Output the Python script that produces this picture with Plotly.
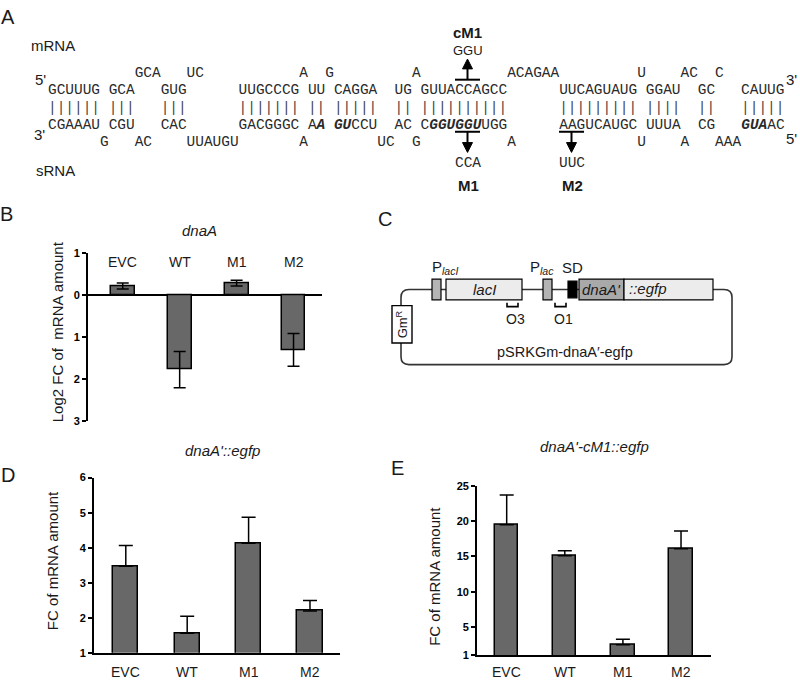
import plotly.graph_objects as go

W, H = 800, 687
SANS = "Liberation Sans, Arial, sans-serif"
MONO = "Liberation Mono, Courier New, monospace"
BAR_FILL = "#686868"
INK = "#1a1a1a"

# ---------------- data ----------------
categories = ["EVC", "WT", "M1", "M2"]

dnaA_log2fc = [0.22, -1.77, 0.29, -1.30]
dnaA_log2fc_err = [0.07, 0.43, 0.07, 0.39]
dnaA_tickvals = [-3, -2, -1, 0, 1]
dnaA_ticktext = ["3", "2", "1", "0", "1"]

egfp_fc = [3.47, 1.56, 4.13, 2.19]
egfp_fc_err = [0.59, 0.48, 0.74, 0.30]
egfp_tickvals = [1, 2, 3, 4, 5, 6]

cm1_fc = [19.5, 15.1, 2.5, 16.1]
cm1_fc_err = [4.2, 0.7, 0.8, 2.5]
cm1_tickvals = [1, 5, 10, 15, 20, 25]

# sequence alignment rows (lower-case = bold italic emphasis)
mrna_bulge = "          GCA   UC           A  G         A          ACAGAA         U    AC  C"
mrna_pair  = "GCUUUG GCA   GUG      UUGCCCG UU CAGGA  UG GUUACCAGCC      UUCAGUAUG GGAU  GC   CAUUG"
srna_pair  = "CGAAAU CGU   CAC      GACGGGC Aa guCCU  AC CggugguUGG      AAGUCAUGC UUUA  CG   guaAC"
srna_bulge = "      G   AC    UUAUGU       A        UC  G          A              U    A   AAA"
pair_row = "".join("|" if c != " " else " " for c in mrna_pair)


def px(x):
    return x / W


def py(y):
    return 1 - y / H


def ann(x, y, text, size=14, family=SANS, color=INK, xanchor="center",
        yanchor="middle", angle=0):
    return dict(x=px(x), y=py(y), xref="paper", yref="paper", text=text,
                showarrow=False, font=dict(family=family, size=size, color=color),
                xanchor=xanchor, yanchor=yanchor, textangle=angle)


def seq_html(row):
    out = []
    for ch in row:
        if ch == " ":
            out.append("\u00a0")
        elif ch.islower():
            out.append("<b><i>" + ch.upper() + "</i></b>")
        else:
            out.append(ch)
    return "".join(out)


def rect(x0, y0, x1, y1, fill, lw=1.2, lc="black"):
    return dict(type="rect", xref="paper", yref="paper", x0=px(x0), x1=px(x1),
                y0=py(y1), y1=py(y0), fillcolor=fill, line=dict(color=lc, width=lw))


def line(x0, y0, x1, y1, lw=2, lc="black"):
    return dict(type="line", xref="paper", yref="paper", x0=px(x0), x1=px(x1),
                y0=py(y0), y1=py(y1), line=dict(color=lc, width=lw))


def path(points, fill=None, lw=1.5, lc="black", closed=False):
    d = ""
    for i, p in enumerate(points):
        if p[0] == "Q":
            d += " Q %f,%f %f,%f" % (px(p[1]), py(p[2]), px(p[3]), py(p[4]))
        else:
            d += (" M" if i == 0 else " L") + " %f,%f" % (px(p[0]), py(p[1]))
    if closed:
        d += " Z"
    s = dict(type="path", xref="paper", yref="paper", path=d.strip(),
             line=dict(color=lc, width=lw))
    if fill:
        s["fillcolor"] = fill
    return s


fig = go.Figure()

bar_style = dict(color=BAR_FILL, line=dict(color="black", width=1.5))

fig.add_trace(go.Bar(
    x=categories, y=dnaA_log2fc, width=0.42, marker=bar_style,
    error_y=dict(type="data", array=dnaA_log2fc_err, color="black", thickness=1.5, width=6),
    xaxis="x", yaxis="y", showlegend=False, hoverinfo="skip"))

fig.add_trace(go.Bar(
    x=categories, y=egfp_fc, width=0.41, marker=bar_style,
    error_y=dict(type="data", symmetric=False, array=egfp_fc_err,
                 arrayminus=[0] * len(egfp_fc), color="black", thickness=1.5, width=7),
    xaxis="x2", yaxis="y2", showlegend=False, hoverinfo="skip"))

fig.add_trace(go.Bar(
    x=categories, y=cm1_fc, width=0.40, marker=bar_style,
    error_y=dict(type="data", symmetric=False, array=cm1_fc_err,
                 arrayminus=[0] * len(cm1_fc), color="black", thickness=1.5, width=7),
    xaxis="x3", yaxis="y3", showlegend=False, hoverinfo="skip"))

tickfont = dict(family=SANS, size=11, color="black", weight="bold")
yax_common = dict(showline=True, linecolor="black", linewidth=1.8, ticks="outside",
                  ticklen=4, tickwidth=1.5, tickcolor="black", showgrid=False,
                  tickfont=tickfont, fixedrange=True)
xax_common = dict(showgrid=False, showticklabels=False, ticks="", zeroline=False,
                  fixedrange=True)

annotations = []
shapes = []

# ---------------- Panel A ----------------
annotations += [
    ann(8, 11, "A", size=20),
    ann(53, 40, "mRNA", size=15),
    ann(55, 167, "sRNA", size=15),
    ann(40, 75, "5'", size=15),
    ann(39, 131, "3'", size=15),
    ann(791, 75, "3'", size=15),
    ann(791, 135, "5'", size=15),
]
row_y = [68, 86, 104, 121, 138]
for yy, row in zip(row_y, [mrna_bulge, mrna_pair, pair_row, srna_pair, srna_bulge]):
    annotations.append(ann(46, yy, seq_html(row), size=14.45, family=MONO,
                           color="#2a2a2a" if row is not pair_row else "#444",
                           xanchor="left"))

annotations += [
    ann(467.5, 27, "<b>cM1</b>", size=15),
    ann(467.5, 45, "GGU", size=13),
    ann(468, 160, "CCA", size=14.45, family=MONO, color="#2a2a2a"),
    ann(572, 160, "UUC", size=14.45, family=MONO, color="#2a2a2a"),
    ann(468, 183, "<b>M1</b>", size=15),
    ann(572, 183, "<b>M2</b>", size=15),
]
# cM1 up arrow
shapes += [
    line(455, 75, 480, 75),
    line(467.5, 75, 467.5, 64),
    path([(462.5, 64), (472.5, 64), (467.5, 54)], fill="black", lw=1, closed=True),
]
# M1 / M2 down arrows
for cx in (467.5, 571.5):
    shapes += [
        line(cx - 12.5, 128, cx + 12.5, 128),
        line(cx, 128, cx, 139),
        path([(cx - 5, 139), (cx + 5, 139), (cx, 149)], fill="black", lw=1, closed=True),
    ]

# ---------------- Panel B ----------------
annotations += [
    ann(6, 212, "B", size=20),
    ann(199, 228, "<i>dnaA</i>", size=15),
    ann(57, 331, "Log2 FC of\u00a0\u00a0mRNA amount", size=15, angle=-90),
]
for c in categories:
    annotations.append(dict(x=c, y=0.8, xref="x", yref="y", text=c, showarrow=False,
                            font=dict(family=SANS, size=14, color=INK),
                            xanchor="center", yanchor="middle"))

# ---------------- Panel C ----------------
annotations.append(ann(385, 217, "C", size=20))
loop_l, loop_r, loop_t, loop_b, rr = 401, 732, 288.5, 365, 8
shapes.append(path([
    (loop_l + rr, loop_t), (loop_r - rr, loop_t), ("Q", loop_r, loop_t, loop_r, loop_t + rr),
    (loop_r, loop_b - rr), ("Q", loop_r, loop_b, loop_r - rr, loop_b),
    (loop_l + rr, loop_b), ("Q", loop_l, loop_b, loop_l, loop_b - rr),
    (loop_l, loop_t + rr), ("Q", loop_l, loop_t, loop_l + rr, loop_t)], lw=1.6, lc="#333"))
shapes += [
    rect(392, 305, 412, 343, "white", lw=1.4),
    rect(432, 278, 441, 299, "#b4b4b4"),
    rect(446, 278, 522, 299, "#ececec"),
    rect(543, 278, 552, 299, "#b4b4b4"),
    rect(568, 280, 577, 297, "black"),
    rect(579, 278, 624, 299, "#a9a9a9"),
    rect(624, 278, 713, 299, "#ececec"),
    path([(507, 302), (507, 306), (518, 306), (518, 302)], lw=1.6),
    path([(555, 302), (555, 306), (566, 306), (566, 302)], lw=1.6),
]
annotations += [
    ann(402, 324, "Gm<sup>R</sup>", size=13, angle=-90),
    ann(484, 289, "<i>lacI</i>", size=15),
    ann(601.5, 289, "<i>dnaA'</i>", size=15),
    ann(648, 288, "<i>::egfp</i>", size=15),
    ann(430, 266, "P<sub><i>lacI</i></sub>", size=15, xanchor="left"),
    ann(528, 266, "P<sub><i>lac</i></sub>", size=15, xanchor="left"),
    ann(572, 266, "SD", size=15),
    ann(515, 319, "O3", size=14),
    ann(563, 319, "O1", size=14),
    ann(565, 352, "pSRKGm-dnaA\u2032-egfp", size=14.5),
]

# ---------------- Panel D ----------------
annotations += [
    ann(8, 477, "D", size=20),
    ann(222, 452, "<i>dnaA'::egfp</i>", size=15),
    ann(52, 565, "FC of mRNA amount", size=15, angle=-90),
]
for c in categories:
    annotations.append(dict(x=c, y=py(678), xref="x2", yref="paper", text=c,
                            showarrow=False, font=dict(family=SANS, size=14, color=INK),
                            xanchor="center", yanchor="middle"))

# ---------------- Panel E ----------------
annotations += [
    ann(397, 470, "E", size=20),
    ann(594, 448, "<i>dnaA'-cM1::egfp</i>", size=15),
    ann(435, 580, "FC of mRNA amount", size=15, angle=-90),
]
for c in categories:
    annotations.append(dict(x=c, y=py(678), xref="x3", yref="paper", text=c,
                            showarrow=False, font=dict(family=SANS, size=14, color=INK),
                            xanchor="center", yanchor="middle"))

fig.update_layout(
    width=W, height=H, margin=dict(l=0, r=0, t=0, b=0),
    paper_bgcolor="white", plot_bgcolor="rgba(0,0,0,0)",
    bargap=0, showlegend=False,
    xaxis=dict(domain=[px(88), px(322)], range=[-0.61, 3.5], showline=False,
               anchor="y", **xax_common),
    yaxis=dict(domain=[py(422.7), py(251.7)], range=[-3, 1], tickvals=dnaA_tickvals,
               ticktext=dnaA_ticktext, zeroline=True, zerolinecolor="black",
               zerolinewidth=1.6, anchor="x", **yax_common),
    xaxis2=dict(domain=[px(94), px(340)], range=[-0.518, 3.489], showline=True,
                linecolor="black", linewidth=1.8, anchor="y2", **xax_common),
    yaxis2=dict(domain=[py(658.3), py(480)], range=[1, 6], tickvals=egfp_tickvals,
                zeroline=False, anchor="x2", **yax_common),
    xaxis3=dict(domain=[px(477), px(711)], range=[-0.511, 3.516], showline=True,
                linecolor="black", linewidth=1.8, anchor="y3", **xax_common),
    yaxis3=dict(domain=[py(661), py(488.3)], range=[1, 25], tickvals=cm1_tickvals,
                zeroline=False, anchor="x3", **yax_common),
    annotations=annotations,
    shapes=shapes,
)

fig.write_html("out.html", config={"displayModeBar": False},
               post_script="document.body.style.margin='0px';")
